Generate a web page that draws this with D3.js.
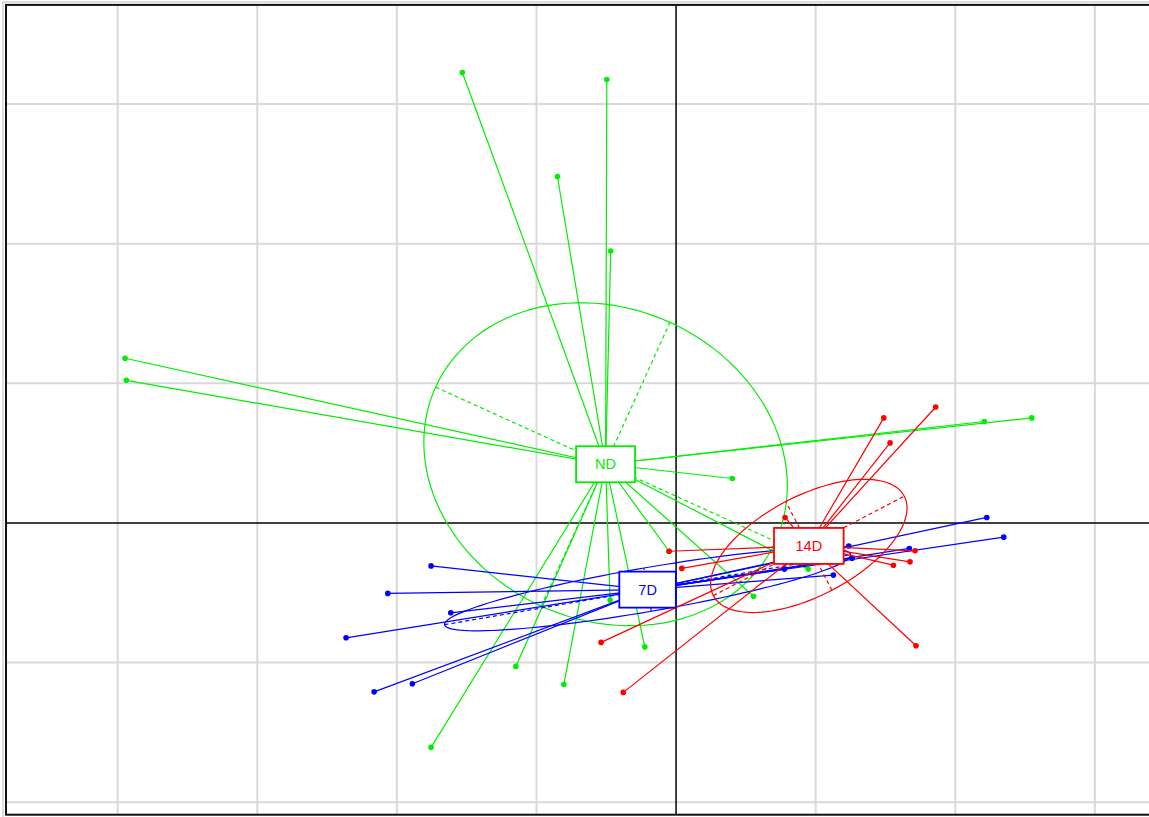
<!DOCTYPE html>
<html lang="en">
  <head>
    <meta charset="UTF-8" />
    <title>s.class</title>
    <script src="https://d3js.org/d3.v7.min.js"></script>
    <style>
      html, body { margin: 0; padding: 0; background: #fff; overflow: hidden; }
      svg { display: block; }
    </style>
  </head>
  <body>
    <svg></svg>
    <script>
      const width = 1149;
      const height = 817;

      // groups
      const groups = ["ND", "7D", "14D"];
      const groupColors = ["#00ee00", "#0000ff", "#ff0000"];
      const groupX = [-0.505, -0.204, 0.951];
      const groupY = [0.42, -0.478, -0.165];
      // ellipse half-axes and tilt (degrees)
      const ellA = [1.337, 1.476, 0.771];
      const ellB = [1.116, 0.157, 0.358];
      const ellAngle = [-24.4, 9.8, 27.5];

      // individual scores
      const pointsND = [
        [-1.531, 3.226], [-0.496, 3.176], [-0.85, 2.481], [-0.468, 1.947],
        [-3.947, 1.179], [-3.938, 1.021], [0.403, 0.318], [2.208, 0.726],
        [2.548, 0.752], [0.946, -0.331], [0.555, -0.525], [-0.05, -0.203],
        [-0.473, -0.553], [-0.224, -0.888], [-1.148, -1.028], [-0.804, -1.157],
        [-1.755, -1.608]
      ];
      const points7D = [
        [-1.755, -0.308], [-2.065, -0.505], [-1.614, -0.644], [-2.364, -0.823],
        [-2.163, -1.21], [-1.889, -1.152], [2.226, 0.039], [2.347, -0.102],
        [1.671, -0.183], [1.237, -0.165], [1.127, -0.374], [0.776, -0.331],
        [1.261, -0.253]
      ];
      const points14D = [
        [1.488, 0.752], [1.86, 0.83], [1.533, 0.573], [0.781, 0.039],
        [1.719, -0.88], [1.557, -0.303], [1.676, -0.279], [1.712, -0.2],
        [-0.05, -0.203], [0.041, -0.326], [-0.537, -0.856], [-0.378, -1.214]
      ];
      const groupPoints = [pointsND, points7D, points14D];

      const gridX = [-4, -3, -2, -1, 1, 2, 3];
      const gridY = [-2, -1, 1, 2, 3];

      const x = d3.scaleLinear().domain([-4.8, 3.4]).range([6, 1150.7]);
      const y = d3.scaleLinear().domain([-2.09, 3.71]).range([814.7, 4.9]);

      const svg = d3.select("svg").attr("width", width).attr("height", height);

      // grid
      svg.append("g").selectAll("line").data(gridX).join("line")
        .attr("x1", d => x(d)).attr("x2", d => x(d))
        .attr("y1", y(3.71)).attr("y2", y(-2.09))
        .attr("stroke", "#d9d9d9").attr("stroke-width", 2);
      svg.append("g").selectAll("line").data(gridY).join("line")
        .attr("x1", x(-4.8)).attr("x2", x(3.4))
        .attr("y1", d => y(d)).attr("y2", d => y(d))
        .attr("stroke", "#d9d9d9").attr("stroke-width", 2);

      // axes through origin
      svg.append("line").attr("x1", x(-4.8)).attr("x2", x(3.4))
        .attr("y1", y(0)).attr("y2", y(0)).attr("stroke", "#000").attr("stroke-width", 1.5);
      svg.append("line").attr("x1", x(0)).attr("x2", x(0))
        .attr("y1", y(3.71)).attr("y2", y(-2.09)).attr("stroke", "#000").attr("stroke-width", 1.5);

      // frame
      svg.append("rect").attr("x", 3).attr("y", 2).attr("width", 1160).attr("height", 816)
        .attr("fill", "none").attr("stroke", "#bbb").attr("stroke-width", 1);
      svg.append("rect").attr("x", x(-4.8)).attr("y", y(3.71))
        .attr("width", 1160).attr("height", y(-2.09) - y(3.71))
        .attr("fill", "none").attr("stroke", "#111").attr("stroke-width", 2);

      const layer = svg.append("g");

      groups.forEach((g, i) => {
        const col = groupColors[i];
        const cx = groupX[i], cy = groupY[i];
        const gg = layer.append("g");

        // ellipse in data space
        const t = ellAngle[i] * Math.PI / 180;
        const ellPts = d3.range(0, 361, 3).map(a => {
          const r = a * Math.PI / 180;
          const u = ellA[i] * Math.cos(r), v = ellB[i] * Math.sin(r);
          return [cx + u * Math.cos(t) - v * Math.sin(t), cy + u * Math.sin(t) + v * Math.cos(t)];
        });
        gg.append("path")
          .attr("d", d3.line().x(d => x(d[0])).y(d => y(d[1]))(ellPts))
          .attr("fill", "none").attr("stroke", col).attr("stroke-width", 1.2);

        // ellipse axes (dashed)
        const axes = [
          [[cx - ellA[i] * Math.cos(t), cy - ellA[i] * Math.sin(t)], [cx + ellA[i] * Math.cos(t), cy + ellA[i] * Math.sin(t)]],
          [[cx + ellB[i] * Math.sin(t), cy - ellB[i] * Math.cos(t)], [cx - ellB[i] * Math.sin(t), cy + ellB[i] * Math.cos(t)]]
        ];
        gg.selectAll("line.ax").data(axes).join("line").attr("class", "ax")
          .attr("x1", d => x(d[0][0])).attr("y1", d => y(d[0][1]))
          .attr("x2", d => x(d[1][0])).attr("y2", d => y(d[1][1]))
          .attr("stroke", col).attr("stroke-width", 1.2).attr("stroke-dasharray", "4,3");

        // stars
        gg.selectAll("line.star").data(groupPoints[i]).join("line").attr("class", "star")
          .attr("x1", x(cx)).attr("y1", y(cy))
          .attr("x2", d => x(d[0])).attr("y2", d => y(d[1]))
          .attr("stroke", col).attr("stroke-width", 1.2);

        gg.selectAll("circle").data(groupPoints[i]).join("circle")
          .attr("cx", d => x(d[0])).attr("cy", d => y(d[1]))
          .attr("r", 2.8).attr("fill", col);
      });

      // labels
      const lab = svg.append("g");
      groups.forEach((g, i) => {
        const col = groupColors[i];
        const lg = lab.append("g").attr("transform", `translate(${x(groupX[i])},${y(groupY[i])})`);
        const rect = lg.append("rect").attr("fill", "#fff").attr("stroke", col).attr("stroke-width", 1.8);
        const txt = lg.append("text").text(g)
          .attr("text-anchor", "middle").attr("dy", "0.36em")
          .attr("font-family", "Liberation Sans, Arial, sans-serif")
          .attr("font-size", 14.5).attr("fill", col);
        const bw = txt.node().getBBox().width + 28 + 5 * g.length;
        rect.attr("x", -bw / 2).attr("y", -18).attr("width", bw).attr("height", 36);
      });
    </script>
  </body>
</html>
